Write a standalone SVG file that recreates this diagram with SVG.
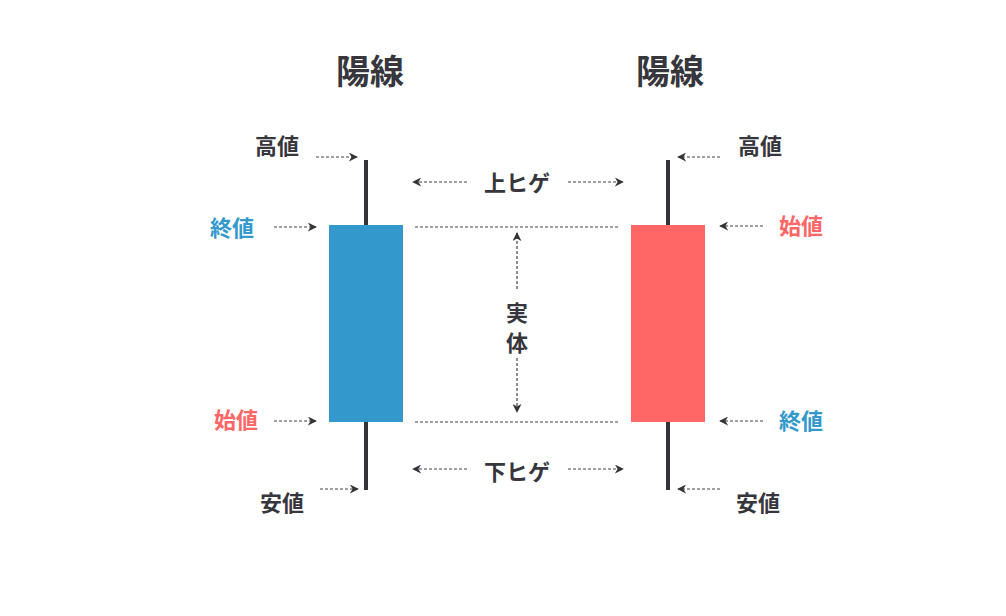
<svg xmlns="http://www.w3.org/2000/svg" width="1006" height="616" viewBox="0 0 1006 616">
<style>
text{font-family:"Noto Sans CJK JP","Noto Sans",sans-serif;font-weight:bold;text-anchor:middle;dominant-baseline:central}
.t{font-size:34px;fill:#36363c}
.l{font-size:22px;fill:#36363c}
.b{fill:#3399cc}
.r{fill:#ff6666}
.d{stroke:#444;stroke-width:1.2;stroke-dasharray:3 2;fill:none}
.w{stroke:#333438;stroke-width:4}
</style>
<defs>
<marker id="ah" viewBox="0 0 10 10" refX="9" refY="5" markerWidth="9" markerHeight="9" markerUnits="userSpaceOnUse" orient="auto-start-reverse">
<path d="M0,0 L10,5 L0,10 L3,5 Z" fill="#333438"/>
</marker>
</defs>
<rect width="1006" height="616" fill="#fff"/>
<text class="t" x="370" y="69">陽線</text>
<text class="t" x="670" y="69">陽線</text>
<g id="candle-left">
<line class="w" x1="366" y1="160" x2="366" y2="490"/>
<rect x="329" y="225" width="74" height="197" fill="#3399cc"/>
</g>
<g id="candle-right">
<line class="w" x1="668" y1="160" x2="668" y2="490"/>
<rect x="631" y="225" width="74" height="197" fill="#ff6666"/>
</g>
<g id="labels-left">
<text class="l" x="277" y="144">高値</text>
<text class="l b" x="232" y="226">終値</text>
<text class="l r" x="236" y="418">始値</text>
<text class="l" x="282" y="501">安値</text>
</g>
<g id="labels-right">
<text class="l" x="760" y="144">高値</text>
<text class="l r" x="801" y="224">始値</text>
<text class="l b" x="801" y="419">終値</text>
<text class="l" x="758" y="501">安値</text>
</g>
<g id="center-labels">
<text class="l" x="517" y="181">上ヒゲ</text>
<text class="l" x="517" y="470">下ヒゲ</text>
<text class="l" x="517" y="311">実</text>
<text class="l" x="517" y="341">体</text>
</g>
<g id="connectors">
<line class="d" x1="316" y1="157" x2="357" y2="157" marker-end="url(#ah)"/>
<line class="d" x1="274" y1="227" x2="316" y2="227" marker-end="url(#ah)"/>
<line class="d" x1="274" y1="421" x2="316" y2="421" marker-end="url(#ah)"/>
<line class="d" x1="320" y1="489" x2="358" y2="489" marker-end="url(#ah)"/>
<line class="d" x1="720" y1="157" x2="678" y2="157" marker-end="url(#ah)"/>
<line class="d" x1="763" y1="226" x2="720" y2="226" marker-end="url(#ah)"/>
<line class="d" x1="763" y1="421" x2="720" y2="421" marker-end="url(#ah)"/>
<line class="d" x1="720" y1="489" x2="678" y2="489" marker-end="url(#ah)"/>
<line class="d" x1="467" y1="182" x2="413" y2="182" marker-end="url(#ah)"/>
<line class="d" x1="568" y1="182" x2="623" y2="182" marker-end="url(#ah)"/>
<line class="d" x1="467" y1="469" x2="413" y2="469" marker-end="url(#ah)"/>
<line class="d" x1="568" y1="469" x2="623" y2="469" marker-end="url(#ah)"/>
<line class="d" x1="415" y1="227" x2="618" y2="227"/>
<line class="d" x1="415" y1="422" x2="618" y2="422"/>
<line class="d" x1="517" y1="289" x2="517" y2="233" marker-end="url(#ah)"/>
<line class="d" x1="517" y1="358" x2="517" y2="412" marker-end="url(#ah)"/>
</g>
</svg>
